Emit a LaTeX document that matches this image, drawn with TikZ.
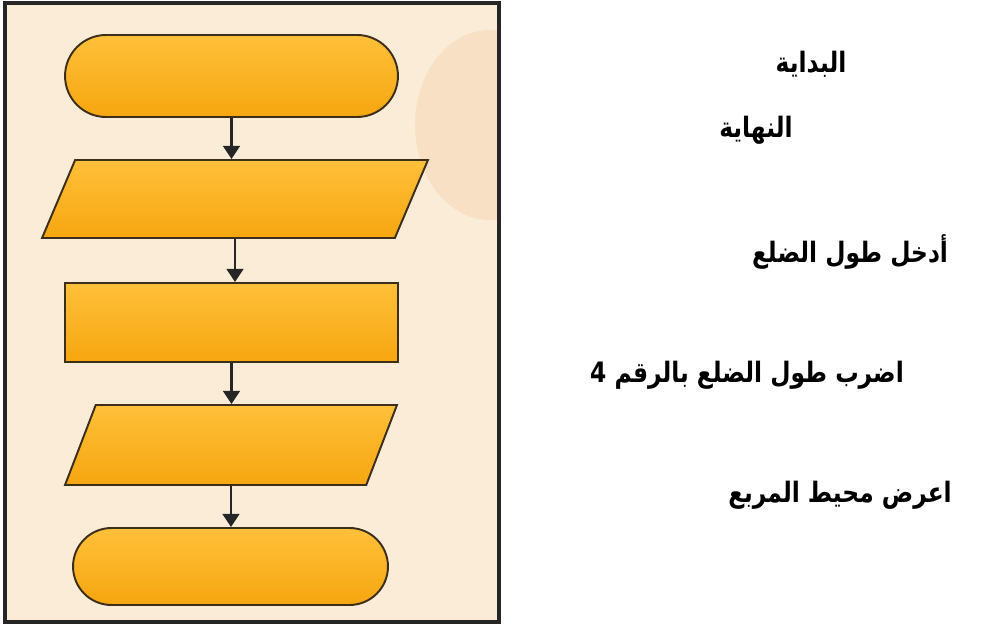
\documentclass[tikz,border=0pt]{standalone}
\usepackage{fontspec}
\usetikzlibrary{shapes.geometric,shapes.misc,arrows.meta}
\newfontfamily\arabicfont[Script=Arabic,FakeStretch=0.83]{DejaVu Sans}
\TeXXeTstate=1
\definecolor{panelbg}{HTML}{FBECD8}
\definecolor{panelblob}{HTML}{F8E0C4}
\definecolor{boxtop}{HTML}{FFC03A}
\definecolor{boxbot}{HTML}{F6A60F}
\definecolor{edge}{HTML}{3B2E1A}
\begin{document}
\begin{tikzpicture}[x=0.02cm,y=-0.02cm,
  box/.style={draw=edge,line width=1.1pt,top color=boxtop,bottom color=boxbot,inner sep=0pt},
  term/.style={box,rounded rectangle,minimum width=6.66cm,minimum height=1.64cm},
  io/.style={box,trapezium,trapezium stretches body},
  flow/.style={-{Triangle[length=7.5pt,width=9.5pt]},line width=1.5pt,draw=black!85},
  lbl/.style={font=\arabicfont\bfseries\fontsize{16}{19}\selectfont}]
\useasboundingbox (0,0) rectangle (1000,624);
\fill[white] (0,0) rectangle (1000,624);
\begin{scope}
\clip (5,3) rectangle (499,622);
\fill[panelbg] (5,3) rectangle (499,622);
\fill[panelblob] (490,125) ellipse (75 and 95);
\end{scope}
\draw[line width=2.3pt,black!85] (5,3) rectangle (499,622);
\node[term] (begin) at (231.5,76) {};
\node[io,trapezium left angle=67,trapezium right angle=113,minimum width=7.72cm] (input) at (235,199) {\rule{0pt}{1.56cm}};
\node[box,rectangle,minimum width=6.66cm,minimum height=1.58cm] (calc) at (231.5,322.5) {};
\node[io,trapezium left angle=69,trapezium right angle=111,minimum width=6.64cm] (output) at (231,445) {\rule{0pt}{1.6cm}};
\node[term,minimum width=6.3cm,minimum height=1.54cm] (finish) at (230.5,566.5) {};
\draw[flow] (begin.south) -- (begin.south |- input.north);
\draw[flow] (input.south) -- (input.south |- calc.north);
\draw[flow] (calc.south) -- (calc.south |- output.north);
\draw[flow] (output.south) -- (output.south |- finish.north);
\node[lbl] (tbegin) at (811,64) {\beginR البداية\endR};
\node[lbl] (tfinish) at (756,130) {\beginR النهاية\endR};
\node[lbl] (tinput) at (850,252) {\beginR أدخل طول الضلع\endR};
\node[lbl] (tcalc) at (747,375) {\beginR اضرب طول الضلع بالرقم \beginL 4\endL\endR};
\node[lbl] (toutput) at (840,495) {\beginR اعرض محيط المربع\endR};
\end{tikzpicture}
\end{document}
